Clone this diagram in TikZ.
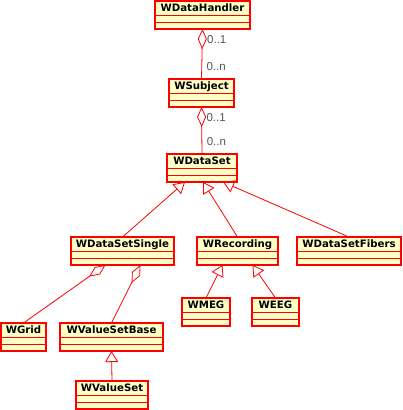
\documentclass[tikz,border=0pt]{standalone}
\usepackage{fontspec}
\setmainfont{DejaVu Sans}
\newfontfamily\multfont{Liberation Sans}
\usepackage{xcolor}
\usetikzlibrary{arrows.meta}

\definecolor{umlred}{RGB}{255,0,0}
\definecolor{umlfill}{RGB}{255,255,200}
\definecolor{umlgray}{RGB}{85,85,85}

\tikzset{
  classbox/.style={draw=umlred, fill=umlfill, line width=1.1pt, rectangle,
    inner sep=0pt, outer sep=0pt, minimum height=28},
  classname/.style={anchor=base, inner sep=0pt, font=\fontsize{10.2}{12}\selectfont\bfseries},
  classline/.style={draw=umlred, line width=0.9pt},
  aggr/.style={draw=umlred, line width=0.8pt, -{Diamond[open, length=20pt, width=9pt]}},
  inherit/.style={draw=umlred, line width=0.8pt, -{Triangle[open, length=11pt, width=13pt]}},
  mult/.style={anchor=west, inner sep=0pt, xshift=4.5pt, text=umlgray,
    font=\multfont\fontsize{11.5}{13}\selectfont}
}

% name, x, y (top left, px), width, label
\newcommand{\umlclass}[5]{%
  \node[classbox, minimum width=#4, anchor=north west] (#1) at (#2,#3) {};
  \node[classname] (#1-name) at ([yshift=-10.8]#1.north) {#5};
  \draw[classline] ([yshift=-14]#1.north west) -- ([yshift=-14]#1.north east);
  \draw[classline] ([yshift=-21]#1.north west) -- ([yshift=-21]#1.north east);
}

\begin{document}
\begin{tikzpicture}[x=1pt, y=-1pt]
\useasboundingbox (0,0) rectangle (402,410);

% classes
\umlclass{wdatahandler}{155}{1}{95}{WDataHandler}
\umlclass{wsubject}{169}{79}{65}{WSubject}
\umlclass{wdataset}{167}{154}{70}{WDataSet}
\umlclass{wdatasetsingle}{71}{237}{103}{WDataSetSingle}
\umlclass{wrecording}{197}{237}{81}{WRecording}
\umlclass{wdatasetfibers}{297}{237}{104}{WDataSetFibers}
\umlclass{wmeg}{182}{298}{48}{WMEG}
\umlclass{weeg}{252}{298}{47}{WEEG}
\umlclass{wgrid}{1}{323}{45}{WGrid}
\umlclass{wvaluesetbase}{60}{323}{103}{WValueSetBase}
\umlclass{wvalueset}{76}{381}{72}{WValueSet}

% aggregations
\draw[aggr] (wsubject.north) -- node[mult, pos=0.24] {0..n} node[mult, pos=0.78] {0..1} (wdatahandler.south);
\draw[aggr] (wdataset.north) -- node[mult, pos=0.26] {0..n} node[mult, pos=0.77] {0..1} (wsubject.south);
\draw[aggr] (wgrid.north) -- ([xshift=-17]wdatasetsingle.south);
\draw[aggr] (wvaluesetbase.north) -- ([xshift=18]wdatasetsingle.south);

% generalizations
\draw[inherit] (wdatasetsingle.north) -- ([xshift=-17]wdataset.south);
\draw[inherit] (wrecording.north) -- ([xshift=1]wdataset.south);
\draw[inherit] (wdatasetfibers.north) -- ([xshift=21]wdataset.south);
\draw[inherit] (wmeg.north) -- ([xshift=-15]wrecording.south);
\draw[inherit] (weeg.north) -- ([xshift=15]wrecording.south);
\draw[inherit] (wvalueset.north) -- (wvaluesetbase.south);
\end{tikzpicture}
\end{document}
